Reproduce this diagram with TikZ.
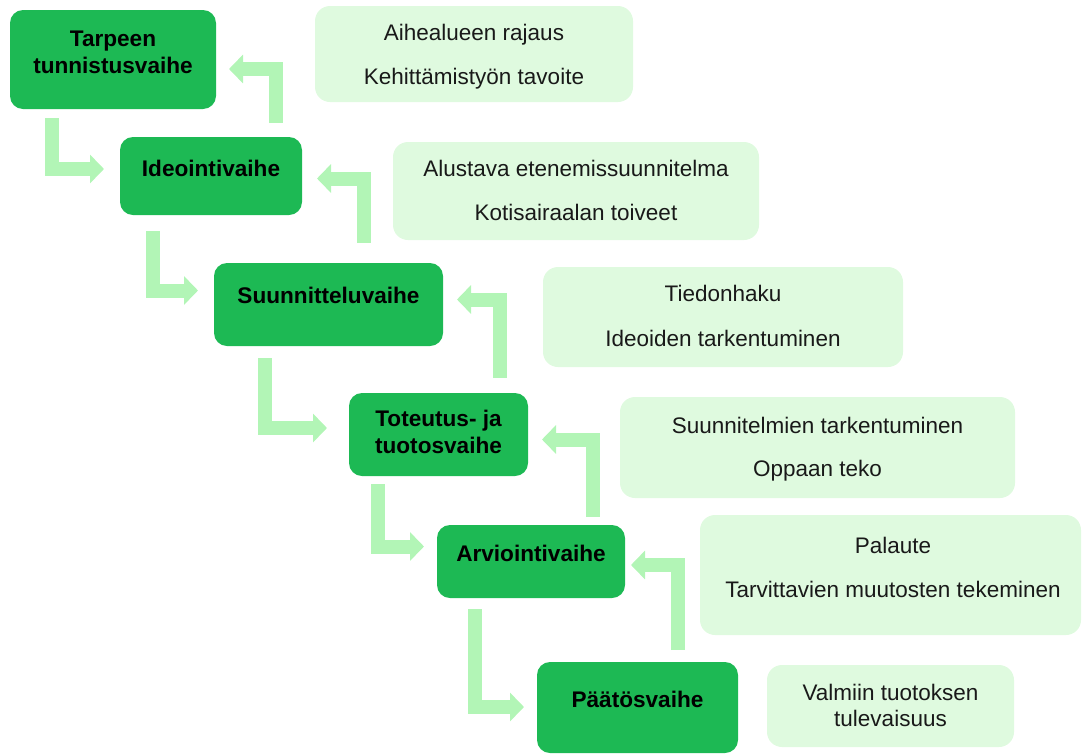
\documentclass[tikz,border=0pt]{standalone}
\usepackage{fontspec}
\setmainfont{Liberation Sans}
\usetikzlibrary{arrows.meta}
\definecolor{darkg}{RGB}{29,185,84}
\definecolor{lightg}{RGB}{223,250,223}
\definecolor{arrg}{RGB}{178,245,182}
\tikzset{
  dbox/.style={draw=none, fill=darkg, rounded corners=13pt, inner sep=0pt, outer sep=0pt},
  lbox/.style={draw=none, fill=lightg, rounded corners=15pt, inner sep=0pt, outer sep=0pt},
  dtxt/.style={anchor=base, inner sep=0pt, font=\fontsize{22.6}{26}\selectfont\bfseries, text=black},
  ltxt/.style={anchor=base, inner sep=0pt, font=\fontsize{22.5}{26}\selectfont, text=black!90},
  conn/.style={draw=arrg, line width=14pt, line join=miter, line cap=butt,
    -{Triangle[width=28pt,length=14pt]}},
}
\begin{document}
\begin{tikzpicture}[x=1pt,y=-1pt]
\useasboundingbox (0,0) rectangle (1082,753);
% dark boxes
\node[dbox, minimum width=206pt, minimum height=99pt] (d1) at (113,59.5) {};
\node[dbox, minimum width=182pt, minimum height=78pt] (d2) at (211,176) {};
\node[dbox, minimum width=229pt, minimum height=83pt] (d3) at (328.5,304.5) {};
\node[dbox, minimum width=179pt, minimum height=83pt] (d4) at (438.5,434.5) {};
\node[dbox, minimum width=188pt, minimum height=73pt] (d5) at (531,561.5) {};
\node[dbox, minimum width=201pt, minimum height=91pt] (d6) at (637.5,707.5) {};
% light boxes
\node[lbox, minimum width=318pt, minimum height=96pt] (l1) at (474,54) {};
\node[lbox, minimum width=366pt, minimum height=98pt] (l2) at (576,191) {};
\node[lbox, minimum width=360pt, minimum height=100pt] (l3) at (723,317) {};
\node[lbox, minimum width=395pt, minimum height=101pt] (l4) at (817.5,447.5) {};
\node[lbox, minimum width=381pt, minimum height=120pt] (l5) at (890.5,575) {};
\node[lbox, minimum width=247pt, minimum height=82pt] (l6) at (890.5,706) {};
% dark texts
\node[dtxt] (d1a) at (113,46) {Tarpeen};
\node[dtxt] (d1b) at (113,73) {tunnistusvaihe};
\node[dtxt] (d2a) at (211,176) {Ideointivaihe};
\node[dtxt] (d3a) at (328.5,303) {Suunnitteluvaihe};
\node[dtxt] (d4a) at (438.5,426) {Toteutus- ja};
\node[dtxt] (d4b) at (438.5,453) {tuotosvaihe};
\node[dtxt] (d5a) at (531,561) {Arviointivaihe};
\node[dtxt] (d6a) at (637.5,707) {Päätösvaihe};
% light texts
\node[ltxt] (l1a) at (474,40) {Aihealueen rajaus};
\node[ltxt] (l1b) at (474,84) {Kehittämistyön tavoite};
\node[ltxt] (l2a) at (576,176) {Alustava etenemissuunnitelma};
\node[ltxt] (l2b) at (576,220) {Kotisairaalan toiveet};
\node[ltxt] (l3a) at (723,301) {Tiedonhaku};
\node[ltxt] (l3b) at (723,346) {Ideoiden tarkentuminen};
\node[ltxt] (l4a) at (817.5,433) {Suunnitelmien tarkentuminen};
\node[ltxt] (l4b) at (817.5,476) {Oppaan teko};
\node[ltxt] (l5a) at (893,553) {Palaute};
\node[ltxt] (l5b) at (893,597) {Tarvittavien muutosten tekeminen};
\node[ltxt] (l6a) at (890.5,700) {Valmiin tuotoksen};
\node[ltxt] (l6b) at (890.5,726) {tulevaisuus};
% connector end points
\coordinate (a1s) at (51.5,118);  \coordinate (a1e) at (104,169);
\coordinate (a2s) at (152.5,231); \coordinate (a2e) at (198,290.5);
\coordinate (a3s) at (264.5,358); \coordinate (a3e) at (327,428);
\coordinate (a4s) at (378,484);   \coordinate (a4e) at (424,546.5);
\coordinate (a5s) at (475,609);   \coordinate (a5e) at (524,707);
\coordinate (b1s) at (275.5,123); \coordinate (b1e) at (229,69);
\coordinate (b2s) at (363.5,243); \coordinate (b2e) at (317,178.5);
\coordinate (b3s) at (500,378);   \coordinate (b3e) at (457,299.5);
\coordinate (b4s) at (593,517);   \coordinate (b4e) at (542,439.5);
\coordinate (b5s) at (677.5,650); \coordinate (b5e) at (631,565);
% connectors
\draw[conn] (a1s) |- (a1e);
\draw[conn] (a2s) |- (a2e);
\draw[conn] (a3s) |- (a3e);
\draw[conn] (a4s) |- (a4e);
\draw[conn] (a5s) |- (a5e);
\draw[conn] (b1s) |- (b1e);
\draw[conn] (b2s) |- (b2e);
\draw[conn] (b3s) |- (b3e);
\draw[conn] (b4s) |- (b4e);
\draw[conn] (b5s) |- (b5e);
\end{tikzpicture}
\end{document}
